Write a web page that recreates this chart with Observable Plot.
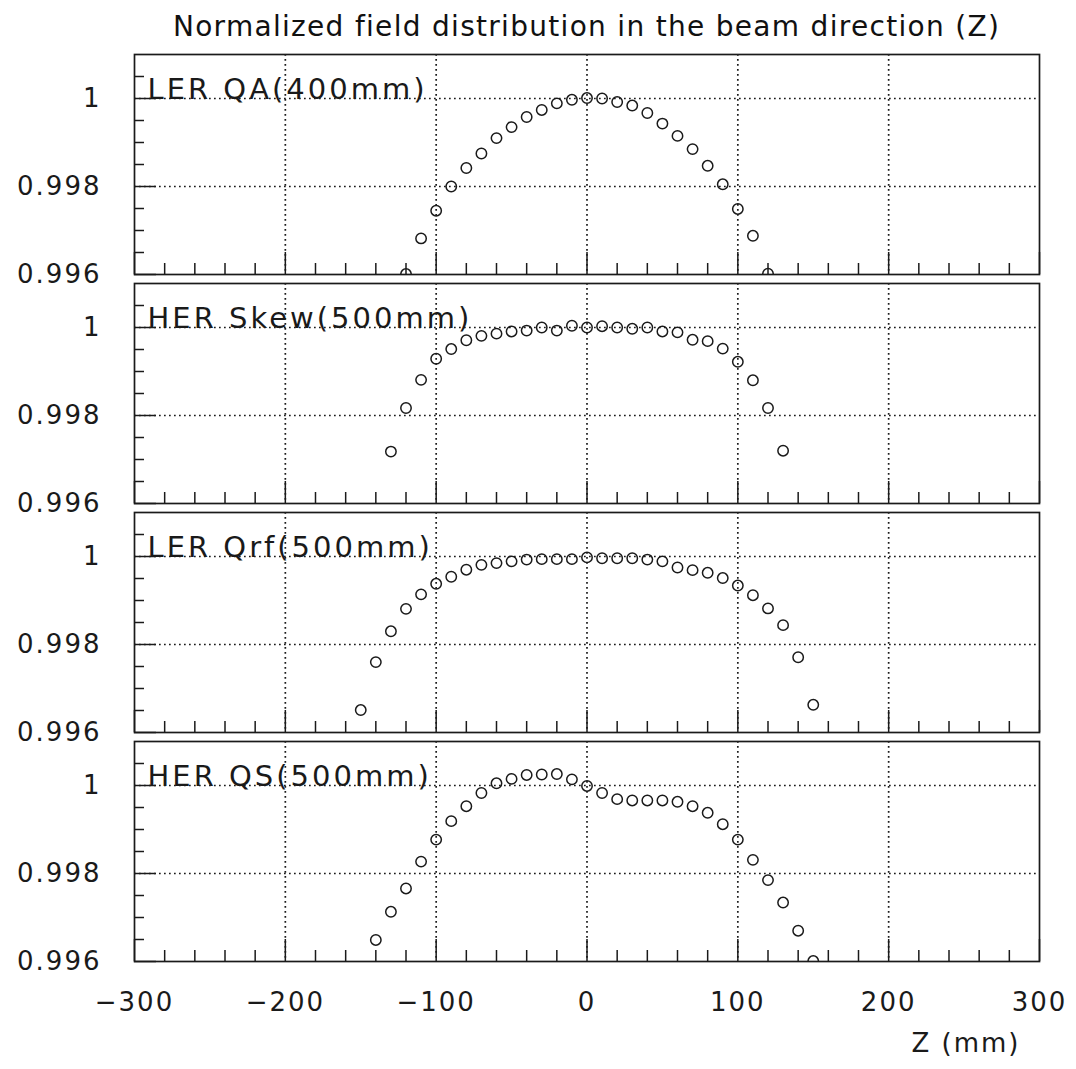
<!DOCTYPE html>
<html>
<head>
<meta charset="utf-8">
<script src="https://cdn.jsdelivr.net/npm/d3@7"></script>
<script src="https://cdn.jsdelivr.net/npm/@observablehq/plot@0.6"></script>
<style>
  html, body { margin: 0; padding: 0; background: #fff; }
  #title {
    box-sizing: border-box;
    height: 45px;
    margin-left: 134px;
    width: 905px;
    padding-top: 13px;
    text-align: center;
    font-family: "DejaVu Sans", sans-serif;
    font-size: 28px;
    line-height: 28px;
    letter-spacing: 1.3px;
    color: #111;
    white-space: nowrap;
  }
  #chart svg text { letter-spacing: 2px; }
  #chart svg g.panel-label text { letter-spacing: 3px; }
</style>
</head>
<body>
<div id="title"></div>
<div id="chart"></div>
<script>
// ---- text ----
const titleText = "Normalized field distribution in the beam direction (Z)";
const xLabel = "Z (mm)";
const panels = ["LER QA(400mm)", "HER Skew(500mm)", "LER Qrf(500mm)", "HER QS(500mm)"];

// ---- series (Z in mm, normalized field) ----
const zLerQA = [-120,-110,-100,-90,-80,-70,-60,-50,-40,-30,-20,-10,0,10,20,30,40,50,60,70,80,90,100,110,120];
const vLerQA = [0.99601,0.99682,0.99745,0.99800,0.99842,0.99875,0.99910,0.99935,0.99958,0.99974,0.99989,0.99997,1.00001,1.00000,0.99992,0.99984,0.99967,0.99943,0.99915,0.99885,0.99847,0.99805,0.99749,0.99688,0.99602];

const zHerSkew = [-130,-120,-110,-100,-90,-80,-70,-60,-50,-40,-30,-20,-10,0,10,20,30,40,50,60,70,80,90,100,110,120,130];
const vHerSkew = [0.99718,0.99817,0.99881,0.99929,0.99951,0.99971,0.99981,0.99986,0.99991,0.99993,1.00000,0.99993,1.00004,1.00000,1.00003,1.00000,0.99997,1.00000,0.99991,0.99989,0.99972,0.99969,0.99952,0.99922,0.99880,0.99817,0.99720];

const zLerQrf = [-150,-140,-130,-120,-110,-100,-90,-80,-70,-60,-50,-40,-30,-20,-10,0,10,20,30,40,50,60,70,80,90,100,110,120,130,140,150];
const vLerQrf = [0.99651,0.99760,0.99830,0.99881,0.99914,0.99938,0.99954,0.99970,0.99981,0.99985,0.99989,0.99993,0.99994,0.99994,0.99994,0.99998,0.99996,0.99996,0.99996,0.99993,0.99989,0.99975,0.99969,0.99963,0.99951,0.99934,0.99912,0.99882,0.99844,0.99771,0.99663];

const zHerQS = [-140,-130,-120,-110,-100,-90,-80,-70,-60,-50,-40,-30,-20,-10,0,10,20,30,40,50,60,70,80,90,100,110,120,130,140,150];
const vHerQS = [0.99649,0.99713,0.99766,0.99827,0.99877,0.99919,0.99953,0.99983,1.00005,1.00015,1.00024,1.00025,1.00026,1.00014,0.99999,0.99983,0.99969,0.99966,0.99966,0.99966,0.99963,0.99953,0.99938,0.99912,0.99877,0.99831,0.99785,0.99734,0.99670,0.99601];

// ---- axes ----
const xDomain = [-300, 300];
const yDomain = [0.996, 1.001];
const xMajorTicks = [-300, -200, -100, 0, 100, 200, 300];
const xMinorTicks = [-280,-260,-240,-220,-180,-160,-140,-120,-80,-60,-40,-20,20,40,60,80,120,140,160,180,220,240,260,280];
const xGridLines = [-200, -100, 0, 100, 200];
const yMajorTicks = [0.996, 0.998, 1];
const yTickLabels = ["0.996", "0.998", "1"];
const yMinorTicks = [0.9965, 0.997, 0.9975, 0.9985, 0.999, 0.9995, 1.0005];
const yGridLines = [0.998, 1];

// ---- build table ----
const series = [
  [panels[0], zLerQA, vLerQA],
  [panels[1], zHerSkew, vHerSkew],
  [panels[2], zLerQrf, vLerQrf],
  [panels[3], zHerQS, vHerQS]
];
const data = series.flatMap(([panel, zs, vs]) => zs.map((z, i) => ({panel, z, v: vs[i]})));
const panelLabels = panels.map(p => ({panel: p, label: p}));
const xLabelRow = [{panel: panels[panels.length - 1], label: xLabel}];

document.getElementById("title").textContent = titleText;

const ink = "#1a1a1a";
const fmtX = d => (d < 0 ? "\u2212" + Math.abs(d) : String(d));
const fmtY = d => yTickLabels[yMajorTicks.indexOf(d)];

const chart = Plot.plot({
  width: 1076,
  height: 1024,
  marginLeft: 134,
  marginRight: 37,
  marginTop: 8,
  marginBottom: 106,
  style: {fontFamily: "DejaVu Sans, sans-serif", fontSize: "26px", color: ink, background: "#fff"},
  x: {domain: xDomain},
  y: {domain: yDomain},
  fy: {domain: panels, axis: null, label: null, paddingInner: 0.038, paddingOuter: 0},
  marks: [
    // dotted grid
    Plot.ruleX(xGridLines, {x: d => d, stroke: ink, strokeWidth: 1.7, strokeDasharray: "1.7 3.3"}),
    Plot.ruleY(yGridLines, {y: d => d, stroke: ink, strokeWidth: 1.7, strokeDasharray: "1.7 3.3"}),
    // inward ticks, every panel
    Plot.axisX({ticks: xMajorTicks, tickSize: -22, fill: "none", stroke: ink, strokeWidth: 1.5, facetAnchor: null, label: null}),
    Plot.axisX({ticks: xMinorTicks, tickSize: -11, fill: "none", stroke: ink, strokeWidth: 1.5, facetAnchor: null, label: null}),
    Plot.axisY({ticks: yMajorTicks, tickSize: -22, fill: "none", stroke: ink, strokeWidth: 1.5, label: null}),
    Plot.axisY({ticks: yMinorTicks, tickSize: -10, fill: "none", stroke: ink, strokeWidth: 1.5, label: null}),
    // tick labels
    Plot.axisY({ticks: yMajorTicks, tickFormat: fmtY, tickSize: 0, tickPadding: 33, fill: ink, label: null, fontSize: 26}),
    Plot.axisX({ticks: xMajorTicks, tickFormat: fmtX, tickSize: 0, tickPadding: 31, fill: ink, label: null, fontSize: 26}),
    // frame
    Plot.frame({stroke: ink, strokeWidth: 1.7}),
    // data
    Plot.dot(data, {x: "z", y: "v", fy: "panel", r: 5.2, stroke: ink, strokeWidth: 1.5, fill: "none", clip: true}),
    // panel labels
    Plot.text(panelLabels, {fy: "panel", text: "label", frameAnchor: "top-left", textAnchor: "start", lineAnchor: "bottom", dx: 13, dy: 44, fontSize: 29, fill: ink, className: "panel-label"}),
    // x axis title
    Plot.text(xLabelRow, {fy: "panel", text: "label", frameAnchor: "bottom-right", textAnchor: "end", lineAnchor: "bottom", dx: -19, dy: 90, fontSize: 26, fill: ink})
  ]
});
document.getElementById("chart").appendChild(chart);
</script>
</body>
</html>
